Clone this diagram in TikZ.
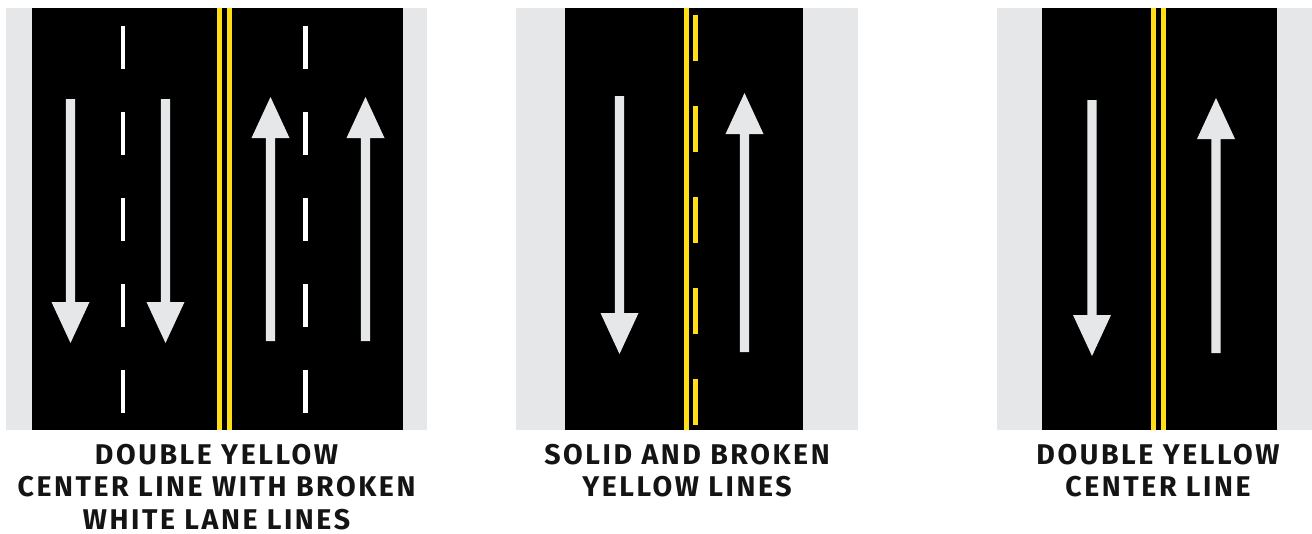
\documentclass[tikz,border=0pt]{standalone}
\usepackage{fontspec}
\setmainfont{Fira Sans}[LetterSpace=9]
\usepackage{tikz}
\usetikzlibrary{positioning,calc}
\usepackage{xcolor}
\definecolor{shoulder}{RGB}{230,231,232}
\definecolor{asphalt}{RGB}{0,0,0}
\definecolor{lineyellow}{RGB}{255,222,23}
\definecolor{markgray}{RGB}{230,231,232}
\definecolor{captionink}{RGB}{20,20,20}

% lane arrows: centre x, tip y, tail y (y grows downwards)
\newcommand{\laneup}[3]{%
  \fill[markgray] (#1-4.6,#3) -- (#1-4.6,#2+41) -- (#1-19,#2+41) -- (#1,#2)
    -- (#1+19,#2+41) -- (#1+4.6,#2+41) -- (#1+4.6,#3) -- cycle;}
\newcommand{\lanedown}[3]{%
  \fill[markgray] (#1-4.6,#3) -- (#1-4.6,#2-41) -- (#1-19,#2-41) -- (#1,#2)
    -- (#1+19,#2-41) -- (#1+4.6,#2-41) -- (#1+4.6,#3) -- cycle;}

\begin{document}
\begin{tikzpicture}[
  x=0.75pt, y=-0.75pt,
  shoulderbox/.style={fill=shoulder},
  roadbox/.style={fill=asphalt},
  yellowbar/.style={fill=lineyellow},
  whitedash/.style={fill=white},
  caption/.style={font=\fontsize{21.4}{24.2}\selectfont\bfseries, text=captionink,
                  align=center, anchor=north, inner sep=0pt, text depth=0pt},
]
\useasboundingbox (0,0) rectangle (1312,533);
%─── Left panel: double yellow with broken white lane lines ─────────────
\fill[shoulderbox] (6,8) rectangle (427,430);
\fill[roadbox] (32,8) rectangle (403,430);
\fill[yellowbar] (217,8) rectangle (222,430);
\fill[yellowbar] (227,8) rectangle (232,430);
\foreach \y in {26,112,...,370} {
  \fill[whitedash] (120.5,\y) rectangle (125,\y+43);
  \fill[whitedash] (303,\y) rectangle (307.5,\y+43);
}
\lanedown{70.5}{343}{99}
\lanedown{165.5}{343}{99}
\laneup{270.5}{97}{341}
\laneup{365.5}{97}{341}
\node[caption] (cap1) at (216.5,444)
  {DOUBLE YELLOW\\CENTER LINE WITH BROKEN\\WHITE LANE LINES};
%─── Middle panel: solid and broken yellow ───────────────────────────────
\fill[shoulderbox] (516,8) rectangle (858,430);
\fill[roadbox] (565,8) rectangle (803,430);
\fill[yellowbar] (683.5,8) rectangle (688.5,430);
\foreach \y in {15,106,...,379}
  \fill[yellowbar] (693,\y) rectangle (698,\y+46);
\lanedown{619.5}{354}{96}
\laneup{744.5}{93}{352}
\node[caption] (cap2) at (687,444) {SOLID AND BROKEN\\YELLOW LINES};
%─── Right panel: double yellow centre line ──────────────────────────────
\fill[shoulderbox] (997,8) rectangle (1312,430);
\fill[roadbox] (1042,8) rectangle (1277,430);
\fill[yellowbar] (1150.7,8) rectangle (1155.7,430);
\fill[yellowbar] (1161,8) rectangle (1166,430);
\lanedown{1092}{356}{100}
\laneup{1216}{98}{353}
\node[caption] (cap3) at (1158,444) {DOUBLE YELLOW\\CENTER LINE};
\end{tikzpicture}
\end{document}
